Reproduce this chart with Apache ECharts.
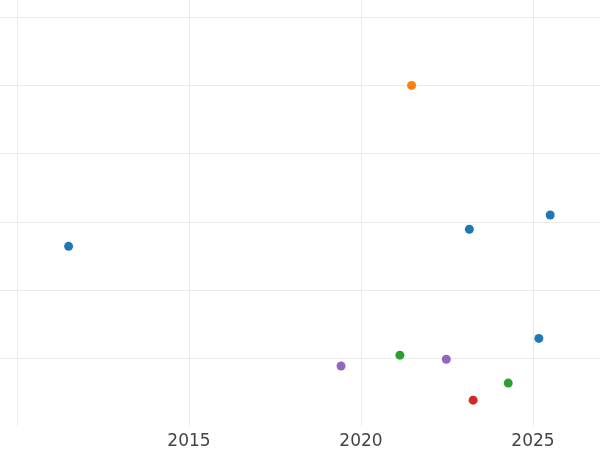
<!DOCTYPE html>
<html>
<head>
<meta charset="utf-8">
<script src="https://cdn.jsdelivr.net/npm/echarts@6/dist/echarts.min.js"></script>
<style>html,body{margin:0;padding:0;background:#fff;}#chart{width:600px;height:450px;}</style>
</head>
<body>
<div id="chart"></div>
<script>
const blueYears = [2011.5, 2023.15, 2025.5, 2025.17];
const blueValues = [16.4, 18.9, 21.0, 2.9];
const orangeYears = [2021.47];
const orangeValues = [40.0];
const greenYears = [2021.13, 2024.28];
const greenValues = [0.45, -3.65];
const redYears = [2023.26];
const redValues = [-6.15];
const purpleYears = [2019.42, 2022.48];
const purpleValues = [-1.15, -0.15];

const xTicks = [2005, 2030, 5];
const yTicks = [-10, 60, 10];

function pairs(xs, ys) { return xs.map((x, i) => [x, ys[i]]); }

const groups = [
  { name: 'blue', color: '#1f77b4', xs: blueYears, ys: blueValues },
  { name: 'orange', color: '#ff7f0e', xs: orangeYears, ys: orangeValues },
  { name: 'green', color: '#2ca02c', xs: greenYears, ys: greenValues },
  { name: 'red', color: '#d62728', xs: redYears, ys: redValues },
  { name: 'purple', color: '#9467bd', xs: purpleYears, ys: purpleValues }
];

const chart = echarts.init(document.getElementById('chart'), null, { renderer: 'canvas' });
chart.setOption({
  animation: false,
  backgroundColor: '#ffffff',
  grid: { left: -155, right: -105, top: -51, bottom: 23.6, containLabel: false, outerBoundsMode: 'none' },
  xAxis: {
    type: 'value',
    min: xTicks[0], max: xTicks[1], interval: xTicks[2],
    axisLine: { show: false },
    axisTick: { show: false },
    axisLabel: {
      color: '#444444', fontSize: 17, fontFamily: 'DejaVu Sans', margin: 7,
      formatter: v => (v === 2010 ? '' : String(v))
    },
    splitLine: { show: true, lineStyle: { color: '#ebebeb', width: 1 } }
  },
  yAxis: {
    type: 'value',
    min: yTicks[0], max: yTicks[1], interval: yTicks[2],
    axisLine: { show: false },
    axisTick: { show: false },
    axisLabel: { show: false },
    splitLine: { show: true, showMinLine: false, lineStyle: { color: '#ebebeb', width: 1 } }
  },
  series: groups.map(g => ({
    name: g.name,
    type: 'scatter',
    symbolSize: 9,
    itemStyle: { color: g.color, opacity: 1 },
    data: pairs(g.xs, g.ys)
  }))
});
</script>
</body>
</html>
